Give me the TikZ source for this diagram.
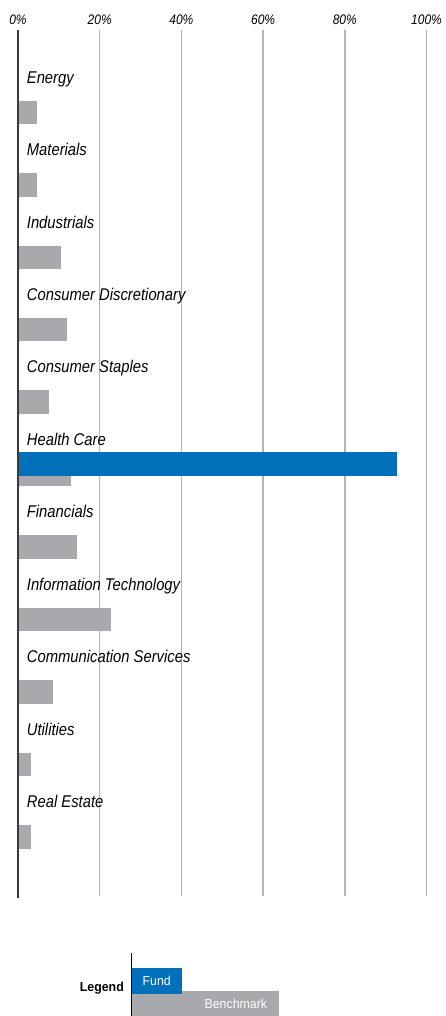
\documentclass[tikz,border=0pt]{standalone}
\usepackage{fontspec}
\setmainfont{Liberation Sans}
\newfontfamily\labfont[FakeStretch=0.87]{Liberation Sans}
\newfontfamily\legfont[FakeStretch=0.95]{Liberation Sans}
\definecolor{benchgray}{HTML}{A7A9AC}
\definecolor{fundblue}{HTML}{0070BA}
\definecolor{gridgray}{HTML}{B1B3B6}
\definecolor{axisdark}{HTML}{3A3A3A}
\tikzset{
  gridline/.style={draw=gridgray, line width=1.4pt},
  axisline/.style={draw=axisdark, line width=1.3pt},
  benchbar/.style={fill=benchgray},
  fundbar/.style={fill=fundblue},
  catlabel/.style={anchor=base west, inner sep=0pt, font=\labfont\itshape\fontsize{17}{19}\selectfont},
  ticklabel/.style={anchor=base, inner sep=0pt, font=\labfont\itshape\fontsize{13.8}{16}\selectfont},
  legtext/.style={inner sep=0pt, font=\legfont\fontsize{13}{15}\selectfont},
}
\begin{document}
\begin{tikzpicture}[x=1pt,y=-1pt]
\useasboundingbox (0,0) rectangle (446,1016);
% gridlines and tick labels
\foreach \p/\t in {20/20\%,40/40\%,60/60\%,80/80\%,100/100\%}{
  \pgfmathsetmacro{\gx}{18+\p*4.085}
  \coordinate (gt\p) at (\gx,30);
  \coordinate (gb\p) at (\gx,896);
  \draw[gridline] (gt\p) -- (gb\p);
  \node[ticklabel] (tick\p) at (\gx,25) {\t};
}
\node[ticklabel] (tick0) at (18,25) {0\%};
% benchmark bars and category labels
\foreach \i/\name/\v in {0/Energy/37,1/Materials/37,2/Industrials/61,3/Consumer Discretionary/67,4/Consumer Staples/49.3,5/Health Care/71,6/Financials/77.3,7/Information Technology/111.3,8/Communication Services/52.7,9/Utilities/31,10/Real Estate/31}{
  \pgfmathsetmacro{\bt}{100.7+\i*72.43}
  \pgfmathsetmacro{\bb}{\bt+23.5}
  \pgfmathsetmacro{\lb}{\bt-17.5}
  \fill[benchbar] (18,\bt) rectangle (\v,\bb);
  \node[catlabel] (lab\i) at (26.7,\lb) {\name};
}
% fund bar (Health Care)
\fill[fundbar] (18,452) rectangle (397.3,475.7);
% axis
\coordinate (at) at (18,30);
\coordinate (ab) at (18,897.5);
\draw[axisline] (at) -- (ab);
% legend
\coordinate (lt) at (131.7,953);
\coordinate (lb) at (131.7,1016);
\fill[benchbar] (132,991) rectangle (279,1016);
\fill[fundbar] (131.7,968.3) rectangle (182.3,994.3);
\draw[black, line width=0.8pt] (lt) -- (lb);
\node[legtext, anchor=base east, font=\legfont\bfseries\fontsize{13}{15}\selectfont] (legend) at (124,991) {Legend};
\node[legtext, anchor=base, text=white] (fund) at (156.7,985.5) {Fund};
\node[legtext, anchor=base east, text=white] (bench) at (267.3,1008) {Benchmark};
\end{tikzpicture}
\end{document}
